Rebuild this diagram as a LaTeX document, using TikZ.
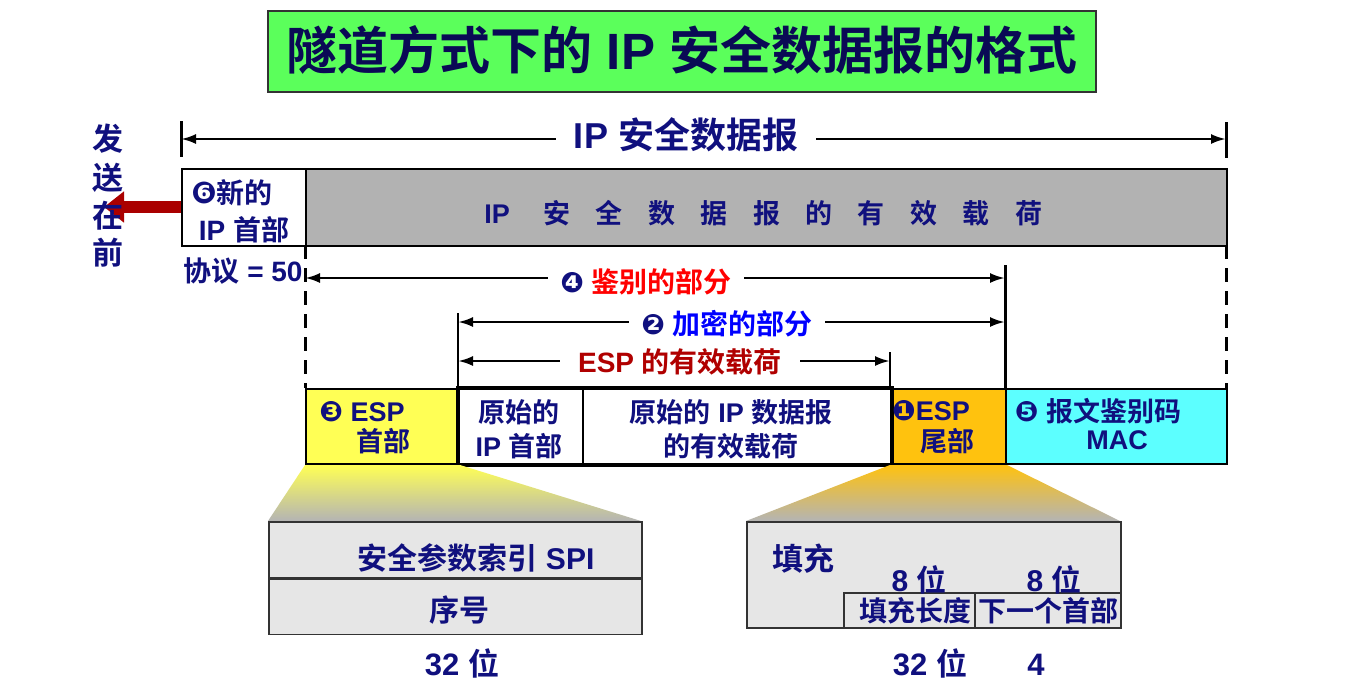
\documentclass[tikz,border=0pt]{standalone}
\usepackage{fontspec}
\setmainfont{Liberation Sans}
\newfontfamily\zhf{Noto Sans CJK SC}[BoldFont={Noto Sans CJK SC Bold}]
\newfontfamily\dvf{DejaVu Sans}
\usetikzlibrary{arrows.meta}
\definecolor{navy}{HTML}{10107E}
\definecolor{titlenavy}{HTML}{0A0A55}
\definecolor{titlegreen}{HTML}{5BFF5B}
\definecolor{payloadgray}{HTML}{B2B2B2}
\definecolor{lowgray}{HTML}{E6E6E6}
\definecolor{espyellow}{HTML}{FFFF55}
\definecolor{esporange}{HTML}{FFC20E}
\definecolor{maccyan}{HTML}{5CFFFF}
\definecolor{arrowred}{HTML}{AA0000}
\definecolor{authred}{HTML}{FF0000}
\definecolor{encblue}{HTML}{0000FF}
\definecolor{espred}{HTML}{B00000}
\definecolor{shadegray}{HTML}{B4B4B4}
\newcommand\zh[1]{{\zhf\bfseries #1}}
\newcommand\cir[2]{{\dvf\bfseries\fontsize{#1}{#1}\selectfont #2}}
\newcommand\fsz[1]{\fontsize{#1}{#1}\selectfont}
\tikzset{
  lbl/.style={font=\bfseries\fsz{#1}, text height=0.84*#1pt, text depth=0.16*#1pt, inner sep=0pt, text=navy},
  lbl/.default=27,
  dimline/.style={line width=2.5pt, {Latex[length=15pt,width=10pt]}-{Latex[length=15pt,width=10pt]}},
  tickline/.style={line width=3pt},
  thinv/.style={line width=2pt},
  dashv/.style={line width=3pt, dash pattern=on 14pt off 9pt},
  fieldbox/.style={draw=black, line width=2pt, anchor=north west, inner sep=0pt, minimum width=#1},
  lowbox/.style={draw=black!80, line width=1.5pt, anchor=north west, inner sep=0pt, minimum width=#1},
}
\begin{document}
\begin{tikzpicture}[x=1pt,y=-1pt]
\useasboundingbox (0,0) rectangle (1368,694);
% title
\node[draw=black!80, line width=1.5pt, fill=titlegreen, minimum width=828pt, minimum height=81pt, inner sep=0pt] (title) at (682,51.5) {};
\node[lbl=51, text=titlenavy] (titletext) at (682,52) {\zh{隧道方式下的} IP \zh{安全数据报的格式}};
% overall arrow
\coordinate (tl) at (181,139); \coordinate (tr) at (1226,139);
\coordinate (tlA) at (181,121); \coordinate (tlB) at (181,157);
\coordinate (trA) at (1226,122); \coordinate (trB) at (1226,158);
\draw[tickline] (tlA) -- (tlB);
\draw[tickline] (trA) -- (trB);
\draw[dimline] (tl) -- (tr);
\node[lbl=36, fill=white, inner xsep=18pt] (toplbl) at (686,136) {IP \zh{安全数据报}};
% red send arrow
\coordinate (sendstart) at (183,207); \coordinate (sendend) at (104,207);
\draw[line width=12pt, draw=arrowred, -{Triangle[length=20pt,width=30pt]}] (sendstart) -- (sendend);
% top row
\node[fieldbox=124pt, minimum height=77pt, fill=white] (newip) at (181,168) {};
\node[fieldbox=921pt, minimum height=77pt, fill=payloadgray] (payload) at (305,168) {};
\node[lbl=27] (payIP) at (497,214) {IP};
\foreach \c [count=\i from 0] in {安,全,数,据,报,的,有,效,载,荷}
  \node[lbl=27] (pay\i) at (557+52.4*\i,214) {\zh{\c}};
\node[lbl=28] (newA) at (232,194) {\cir{30}{❻}\zh{新的}};
\node[lbl=28] (newB) at (244,231) {IP \zh{首部}};
\node[lbl=28] (proto) at (243,272) {\zh{协议} = 50};
% send text
\node[lbl=31] (s1) at (108,140) {\zh{发}};
\node[lbl=31] (s2) at (108,179) {\zh{送}};
\node[lbl=31] (s3) at (108,217) {\zh{在}};
\node[lbl=31] (s4) at (108,254) {\zh{前}};
% dashed guides
\coordinate (dlA) at (305,245); \coordinate (dlB) at (305,388);
\coordinate (drA) at (1226,245); \coordinate (drB) at (1226,388);
\draw[dashv] (dlA) -- (dlB);
\draw[dashv] (drA) -- (drB);
% auth part
\coordinate (a4l) at (305,278); \coordinate (a4r) at (1005,278);
\coordinate (v4A) at (1005,265); \coordinate (v4B) at (1005,388);
\draw[tickline] (v4A) -- (v4B);
\draw[dimline] (a4l) -- (a4r);
\node[lbl=28, fill=white, inner xsep=12pt, text=authred] (authlbl) at (646,283) {\textcolor{navy}{\cir{28}{❹}} \zh{鉴别的部分}};
% encrypted part
\coordinate (a2l) at (458,322); \coordinate (a2r) at (1005,322);
\coordinate (v2A) at (458,313); \coordinate (v2B) at (458,388);
\draw[thinv] (v2A) -- (v2B);
\draw[dimline] (a2l) -- (a2r);
\node[lbl=28, fill=white, inner xsep=12pt, text=encblue] (enclbl) at (727,325) {\textcolor{navy}{\cir{28}{❷}} \zh{加密的部分}};
% esp payload
\coordinate (a3l) at (458,361); \coordinate (a3r) at (890,361);
\coordinate (v3A) at (890,352); \coordinate (v3B) at (890,388);
\draw[thinv] (v3A) -- (v3B);
\draw[dimline] (a3l) -- (a3r);
\node[lbl=28, fill=white, inner xsep=18pt, text=espred] (esplbl) at (680,363) {ESP \zh{的有效载荷}};
% bottom row
\node[fieldbox=153pt, minimum height=75pt, fill=espyellow] (espH) at (305,388) {};
\node[fieldbox=124pt, minimum height=75pt, fill=white] (origH) at (458,388) {};
\node[fieldbox=308pt, minimum height=75pt, fill=white] (origP) at (582,388) {};
\node[fieldbox=115pt, minimum height=75pt, fill=esporange] (espT) at (890,388) {};
\node[fieldbox=221pt, minimum height=75pt, fill=maccyan] (mac) at (1005,388) {};
\draw[line width=3.5pt] (origH.north west) rectangle (origP.south east);
\node[lbl] (t1a) at (362,412) {\cir{28}{❸} ESP};
\node[lbl] (t1b) at (383,442) {\zh{首部}};
\node[lbl] (t2a) at (519,413) {\zh{原始的}};
\node[lbl] (t2b) at (519,447) {IP \zh{首部}};
\node[lbl] (t3a) at (731,413) {\zh{原始的} IP \zh{数据报}};
\node[lbl] (t3b) at (731,447) {\zh{的有效载荷}};
\node[lbl] (t4a) at (931,411) {\cir{28}{❶}ESP};
\node[lbl] (t4b) at (947,442) {\zh{尾部}};
\node[lbl] (t5a) at (1098,412) {\cir{28}{❺} \zh{报文鉴别码}};
\node[lbl] (t5b) at (1117,440) {MAC};
% ESP header detail
\coordinate (hdNW) at (268,521); \coordinate (hdNE) at (641,521);
\shade[top color=espyellow, bottom color=shadegray] (espH.south west) -- (espH.south east) -- (hdNE) -- (hdNW) -- cycle;
\node[lowbox=373pt, minimum height=56pt, fill=lowgray] (spi) at (hdNW) {};
\node[lowbox=373pt, minimum height=55pt, fill=lowgray] (seq) at (spi.south west) {};
\node[lbl=30] (spitext) at (476,559) {\zh{安全参数索引} SPI};
\node[lbl=30] (seqtext) at (459,611) {\zh{序号}};
\node[lbl=31] (w1) at (462,665) {32 \zh{位}};
% ESP trailer detail
\coordinate (trNW) at (746,521); \coordinate (trNE) at (1120,521);
\shade[top color=esporange, bottom color=shadegray] (espT.south west) -- (espT.south east) -- (trNE) -- (trNW) -- cycle;
\node[lowbox=374pt, minimum height=106pt, fill=lowgray] (pad) at (trNW) {};
\node[lowbox=131pt, minimum height=35pt] (padlen) at (843,592) {};
\node[lowbox=146pt, minimum height=35pt] (nexth) at (974,592) {};
\node[lbl=31] (padtext) at (803,560) {\zh{填充}};
\node[lbl=30] (b8a) at (919,581) {8 \zh{位}};
\node[lbl=30] (b8b) at (1054,581) {8 \zh{位}};
\node[lbl=28] (padlentext) at (915,612) {\zh{填充长度}};
\node[lbl=28] (nexttext) at (1048,612) {\zh{下一个首部}};
\node[lbl=31] (w2) at (930,665) {32 \zh{位}};
\node[lbl=31] (w3) at (1036,665) {4};
\end{tikzpicture}
\end{document}
